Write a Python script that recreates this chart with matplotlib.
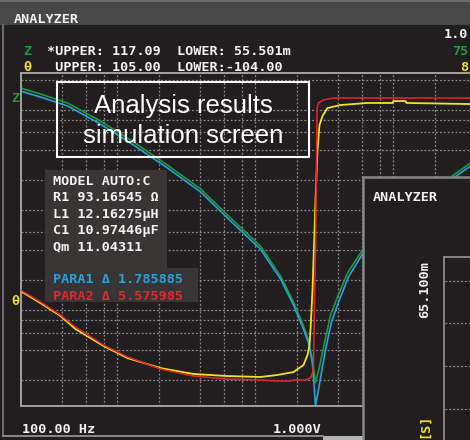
import numpy as np
import matplotlib
matplotlib.use('Agg')
import matplotlib.pyplot as plt
from matplotlib.patches import Rectangle
from matplotlib.colors import LinearSegmentedColormap
from matplotlib.ticker import NullLocator

#----------------------------------------------------
# impedance |Z| (ohm) vs frequency (Hz)
z_freq = [100, 140, 220, 380, 660, 1160, 2020, 3330, 5480, 7660, 9510, 11240,
          12220, 13060, 13730, 14930, 16230, 17640, 19820, 23420, 30080,
          56700, 93600, 137300, 182400, 300600]
z_meas = [82.9, 72.2, 58.7, 38.8, 23.96, 14.1, 8.14, 4.18, 2.19, 1.10, 0.606,
          0.349, 0.253, 0.160, 0.0942, 0.153, 0.265, 0.449, 0.680, 1.18, 2.00,
          4.47, 7.59, 11.2, 14.8, 22.4]

zs_freq = [100, 140, 220, 380, 660, 1160, 2020, 3330, 5480, 7660, 9510, 11240,
           12220, 13060, 13730, 14430, 15180, 16500, 17930, 20160, 23820,
           30080, 56700, 93600, 137300, 182400, 300600]
z_sim = [77.3, 67.3, 54.8, 36.2, 22.3, 13.2, 7.6, 3.9, 2.04, 1.03, 0.565,
         0.325, 0.236, 0.146, 0.056, 0.0802, 0.1213, 0.2255, 0.3826, 0.606,
         1.077, 1.826, 4.18, 7.09, 10.48, 13.8, 20.9]

# phase theta (deg) vs frequency (Hz)
th_freq = [100, 139.6, 194.9, 250.3, 399.6, 596.3, 1034, 1793, 3162, 5484,
           7283, 9507, 11237, 12015, 12423, 12632, 12844, 13062, 13282, 13504,
           13729, 14199, 14678, 15433, 16768, 20840, 32700, 49630, 50460,
           61660, 62680, 182400, 300600]
th_meas = [-31.8, -39.4, -47.5, -55.7, -66.3, -73.9, -80.2, -83.9, -85.2,
           -85.8, -84.5, -82.7, -78.3, -72.0, -65.7, -56.3, -43.7, -31.2,
           -12.4, 4.6, 25.3, 56.7, 72.4, 78.0, 83.0, 84.9, 86.2, 86.2, 87.4,
           87.4, 86.2, 85.5, 85.5]

ths_freq = [100, 139.6, 194.9, 250.3, 399.6, 596.3, 1034, 1793, 3162, 5484,
            7283, 9050, 9507, 11624, 12632, 13062, 13282, 13504, 13729, 13963,
            14082, 14432, 15693, 18540, 300600]
th_sim = [-31.2, -38.7, -46.9, -54.4, -65.7, -73.2, -80.8, -85.2, -87.1,
          -87.7, -88.3, -88.3, -87.7, -87.7, -86.4, -83.3, -78.3, -37.5, -6.1,
          50.4, 83.0, 86.2, 88.1, 89.3, 89.3]

f_grid = [200, 300, 400, 500, 1000, 2000, 3000, 4000, 5000, 10000, 20000,
          30000, 40000, 50000, 100000, 200000, 300000, 400000, 500000]
z_grid = [0.1, 0.2, 0.3, 0.4, 0.5, 1, 2, 3, 5, 10, 20, 30, 40, 50, 100]

model_lines = ['MODEL AUTO:C', 'R1 93.16545 Ω', 'L1 12.16275μH',
               'C1 10.97446μF', 'Qm 11.04311']
#----------------------------------------------------

W, H = 470, 440
bg = '#221e1f'
grid_c = '#8a8a8a'
mono = {'family': 'DejaVu Sans Mono', 'weight': 'bold', 'size': 9.7}

fig = plt.figure(figsize=(W / 100, H / 100), dpi=100, facecolor=bg)

# main plot: 100 Hz .. 1 MHz, left edge at px 20.5, 138 px per decade
ax = fig.add_axes([20.5 / W, (H - 406) / H, 552 / W, 333 / H])
ax.set_facecolor(bg)
ax.set_xscale('log')
ax.set_yscale('log')
ax.set_xlim(100, 1e6)
ax.set_ylim(0.055501, 117.09)
ax.set_xticks(f_grid)
ax.set_yticks(z_grid)
ax.xaxis.set_minor_locator(NullLocator())
ax.yaxis.set_minor_locator(NullLocator())
ax.tick_params(length=0, labelbottom=False, labelleft=False)
ax.set_axisbelow(True)
ax.grid(True, color=grid_c, linestyle=(0, (1.5, 1.6)), linewidth=0.9)
for s in ['left', 'top', 'bottom']:
    ax.spines[s].set_color('#a2a29c')
    ax.spines[s].set_linewidth(1.4)
ax.spines['right'].set_visible(False)

ax.plot(z_freq, z_meas, color='#1e9a3c', lw=1.2)
ax.plot(zs_freq, z_sim, color='#2a9fdc', lw=1.2)

ax2 = ax.twinx()
ax2.set_ylim(-104, 105)
ax2.axis('off')
ax2.plot(th_freq, th_meas, color='#f2e41c', lw=1.3)
ax2.plot(ths_freq, th_sim, color='#e2262c', lw=1.1)

# overlay in pixel coordinates
ov = fig.add_axes([0, 0, 1, 1], zorder=5)
ov.patch.set_alpha(0)
ov.axis('off')

blue = LinearSegmentedColormap.from_list('bar', ['#16246c', '#2244a8', '#2b56c2'])
grad = np.linspace(0, 1, 60).reshape(-1, 1)

def txt(x, y, s, color='#f2f2f2', **kw):
    ov.text(x, y, s, color=color, fontdict=mono, va='baseline', ha='left', **kw)

# top title bar
ov.add_patch(Rectangle((0, 0), W, 25, color='#474747', lw=0))
ov.add_patch(Rectangle((0, 0), W, 2.5, color='#6c6c6c', lw=0))
ov.imshow(grad, extent=(0, 248, 25, 2.5), cmap=blue, aspect='auto', interpolation='bilinear')
txt(14, 22.7, 'ANALYZER')

# header rows
txt(23, 55, 'Z', color='#1e9a3c')
txt(47, 55, '*UPPER: 117.09  LOWER: 55.501m')
txt(23, 71, 'θ', color='#f2e41c')
txt(47, 71, ' UPPER: 105.00  LOWER:-104.00')
txt(444, 38.5, '1.0')
txt(452, 55, '75', color='#1e9a3c')
txt(460, 71, '8', color='#f2e41c')

# axis markers
txt(11.5, 101.7, 'Z', color='#1e9a3c')
txt(11.5, 305, 'θ', color='#f2e41c')

# window borders
ov.plot([3, 3], [25, 436], color='#7c7c7c', lw=1.2)
ov.plot([3, 323], [436, 436], color='#8a8a8a', lw=1.4)
ov.add_patch(Rectangle((323, 436), 40, 4, color='#b4b4b4', lw=0))

# caption box
ov.add_patch(Rectangle((57, 82), 252, 75, fill=False, edgecolor='white', lw=1.5))
ov.text(183, 113, 'Analysis results', color='white', family='Liberation Sans',
        size=18.5, ha='center', va='baseline')
ov.text(183, 143, 'simulation screen', color='white', family='Liberation Sans',
        size=18.5, ha='center', va='baseline')

# model box
ov.add_patch(Rectangle((45, 170), 122, 98, color='#393535', lw=0))
ov.add_patch(Rectangle((45, 268), 153, 34, color='#393535', lw=0))
for i, line in enumerate(model_lines):
    txt(53, 185 + 16.4 * i, line)
txt(53, 283.4, 'PARA1 Δ 1.785885', color='#2a9fdc')
txt(53, 299.8, 'PARA2 Δ 5.575985', color='#e2262c')

# bottom readouts
txt(22.5, 433, '100.00 Hz')
txt(272.5, 433, '1.000V')

# second analyzer window
ov.add_patch(Rectangle((363, 177), 112, 270, facecolor=bg, edgecolor='#868686', lw=1.8))
ov.imshow(grad, extent=(364.5, W, 203, 178.5), cmap=blue, aspect='auto', interpolation='bilinear')
txt(373, 200.7, 'ANALYZER')
ov.plot([444, 444], [257, 440], color='#8c8c8c', lw=1.3)
ov.plot([444, W], [257, 257], color='#8c8c8c', lw=1.3)
for gy in [281, 323, 366, 409]:
    ov.plot([445, W], [gy, gy], color=grid_c, lw=0.9, linestyle=(0, (1.5, 1.6)))
ov.text(425, 290, '65.100m', color='#f2f2f2', fontdict=mono, rotation=90,
        ha='center', va='center')
ov.text(424, 414, '[S]', color='#f2e41c', fontdict=mono, rotation=90,
        ha='center', va='top')

ov.set_xlim(0, W)
ov.set_ylim(H, 0)

plt.savefig('out.png', dpi=100, facecolor=bg)
